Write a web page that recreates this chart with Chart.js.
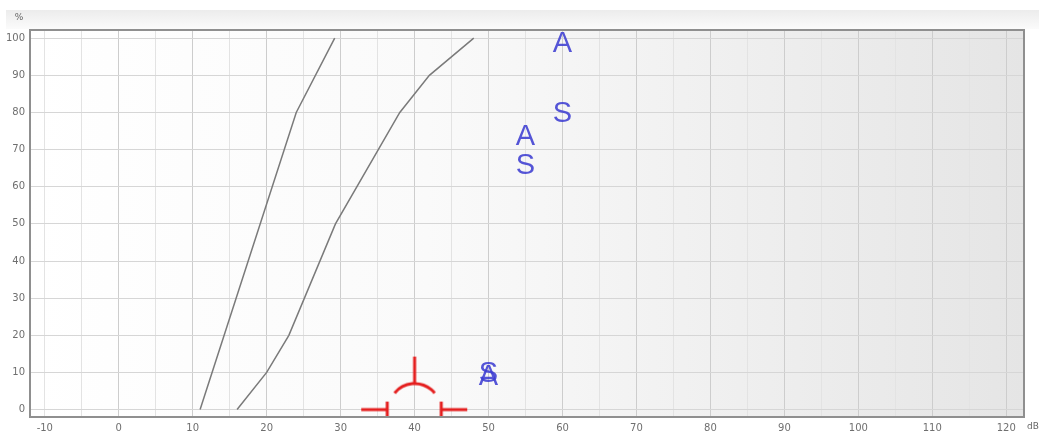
<!DOCTYPE html>
<html>
<head>
<meta charset="utf-8">
<script src="https://cdn.jsdelivr.net/npm/chart.js@4/dist/chart.umd.min.js"></script>
<style>
    html, body { margin: 0; padding: 0; background: #fff; }
    canvas { display: block; }
</style>
</head>
<body>
<canvas id="speechChart" width="1039" height="437"></canvas>
<script>
// ── Data ────────────────────────────────────────────────────────
const xTicks = [-10, 0, 10, 20, 30, 40, 50, 60, 70, 80, 90, 100, 110, 120];
const yTicks = [0, 10, 20, 30, 40, 50, 60, 70, 80, 90, 100];

// reference curves (dB vs. % understood)
const curve1Db = [11, 24, 29.2];
const curve1Pct = [0, 80, 100];
const curve2Db = [16, 20, 23, 29.3, 38, 42, 48];
const curve2Pct = [0, 10, 20, 50, 80, 90, 100];

// speech results, letter markers
const markADb = [60, 55, 50];
const markAPct = [99, 74, 9.3];
const markSDb = [60, 55, 50];
const markSPct = [80, 66, 10];

// red level markers on the baseline
const comfortDb = [40];
const comfortPct = [0];
const lowerDb = [36.3];
const lowerPct = [0];
const upperDb = [43.6];
const upperPct = [0];

const RED = '#e41e1e';
const BLUE = 'rgba(62,62,210,0.88)';

const toPoints = (xs, ys) => xs.map((x, i) => ({ x, y: ys[i] }));

// ── Marker images ───────────────────────────────────────────────
function umbrellaMarker() {
    const c = document.createElement('canvas');
    c.width = 80;
    c.height = 120;
    const g = c.getContext('2d');
    g.strokeStyle = RED;
    g.lineWidth = 3;
    g.beginPath();
    g.arc(40, 60, 26, Math.PI * 1.22, Math.PI * 1.78);
    g.stroke();
    g.beginPath();
    g.moveTo(40, 60 - 26);
    g.lineTo(40, 60 - 53);
    g.stroke();
    return c;
}

function bracketMarker(side) {
    const c = document.createElement('canvas');
    c.width = 64;
    c.height = 24;
    const g = c.getContext('2d');
    g.strokeStyle = RED;
    g.lineWidth = 3;
    g.beginPath();
    g.moveTo(32, 4);
    g.lineTo(32, 20);
    g.moveTo(32, 12);
    g.lineTo(side === 'left' ? 6 : 58, 12);
    g.stroke();
    return c;
}

// ── Plugins ─────────────────────────────────────────────────────
const backdrop = {
    id: 'backdrop',
    beforeDraw(chart) {
        const { ctx, chartArea: a, width } = chart;
        ctx.save();
        ctx.fillStyle = '#fff';
        ctx.fillRect(0, 0, width, chart.height);
        const band = ctx.createLinearGradient(0, 10, 0, 29);
        band.addColorStop(0, '#ececec');
        band.addColorStop(1, '#fbfbfb');
        ctx.fillStyle = band;
        ctx.fillRect(6, 10, width - 6, 19);
        const bg = ctx.createLinearGradient(a.left, 0, a.right, 0);
        bg.addColorStop(0, '#ffffff');
        bg.addColorStop(0.4, '#fafafa');
        bg.addColorStop(1, '#e5e5e5');
        ctx.fillStyle = bg;
        ctx.fillRect(a.left, a.top, a.right - a.left, a.bottom - a.top);
        ctx.restore();
    },
    afterDraw(chart) {
        const { ctx, chartArea: a } = chart;
        ctx.save();
        ctx.strokeStyle = '#8f8f8f';
        ctx.lineWidth = 2;
        ctx.strokeRect(a.left, a.top, a.right - a.left, a.bottom - a.top);
        ctx.fillStyle = '#666';
        ctx.font = '9px "DejaVu Sans", sans-serif';
        ctx.textBaseline = 'middle';
        ctx.textAlign = 'center';
        ctx.fillText('%', 19, 18);
        ctx.fillText('dB', 1033, 427);
        ctx.restore();
    },
};

const letterMarks = {
    id: 'letterMarks',
    afterDatasetsDraw(chart) {
        const { ctx } = chart;
        ctx.save();
        ctx.font = '29px "Liberation Sans", Arial, sans-serif';
        ctx.fillStyle = BLUE;
        ctx.textAlign = 'center';
        ctx.textBaseline = 'middle';
        chart.data.datasets.forEach((ds, i) => {
            if (!ds.letter) return;
            chart.getDatasetMeta(i).data.forEach((pt) => {
                ctx.fillText(ds.letter, pt.x, pt.y + 2);
            });
        });
        ctx.restore();
    },
};

// ── Chart ───────────────────────────────────────────────────────
const gridDb = [];
for (let v = -10; v <= 120; v += 5) gridDb.push(v);

new Chart(document.getElementById('speechChart'), {
    type: 'scatter',
    data: {
        datasets: [
            {
                data: toPoints(curve1Db, curve1Pct),
                showLine: true,
                borderColor: '#7a7a7a',
                borderWidth: 1.5,
                pointRadius: 0,
            },
            {
                data: toPoints(curve2Db, curve2Pct),
                showLine: true,
                borderColor: '#7a7a7a',
                borderWidth: 1.5,
                pointRadius: 0,
            },
            {
                data: toPoints(comfortDb, comfortPct),
                pointStyle: umbrellaMarker(),
                clip: false,
            },
            {
                data: toPoints(lowerDb, lowerPct),
                pointStyle: bracketMarker('left'),
                clip: false,
            },
            {
                data: toPoints(upperDb, upperPct),
                pointStyle: bracketMarker('right'),
                clip: false,
            },
            { letter: 'S', data: toPoints(markSDb, markSPct), pointRadius: 0 },
            { letter: 'A', data: toPoints(markADb, markAPct), pointRadius: 0 },
        ],
    },
    options: {
        responsive: false,
        animation: false,
        events: [],
        layout: { padding: { top: 30, right: 15, left: 0, bottom: 0 } },
        plugins: { legend: { display: false }, tooltip: { enabled: false } },
        scales: {
            x: {
                type: 'linear',
                min: -12,
                max: 122.4,
                afterBuildTicks: (axis) => { axis.ticks = gridDb.map((value) => ({ value })); },
                afterFit: (axis) => { axis.height = 20; },
                grid: {
                    drawTicks: false,
                    color: (c) => (xTicks.includes(c.tick.value) && c.tick.value !== -10 ? '#cdcdcd' : '#e3e3e3'),
                },
                border: { display: false },
                ticks: {
                    autoSkip: false,
                    maxRotation: 0,
                    padding: 5,
                    color: '#6f6f6f',
                    font: { size: 10, family: '"DejaVu Sans", sans-serif' },
                    callback: (v) => (xTicks.includes(v) ? v : ''),
                },
            },
            y: {
                min: -2,
                max: 102.2,
                afterBuildTicks: (axis) => { axis.ticks = yTicks.map((value) => ({ value })); },
                afterFit: (axis) => { axis.width = 30; },
                grid: { drawTicks: false, color: '#d6d6d6' },
                border: { display: false },
                ticks: {
                    padding: 5,
                    color: '#6f6f6f',
                    font: { size: 10, family: '"DejaVu Sans", sans-serif' },
                },
            },
        },
    },
    plugins: [backdrop, letterMarks],
});
</script>
</body>
</html>
